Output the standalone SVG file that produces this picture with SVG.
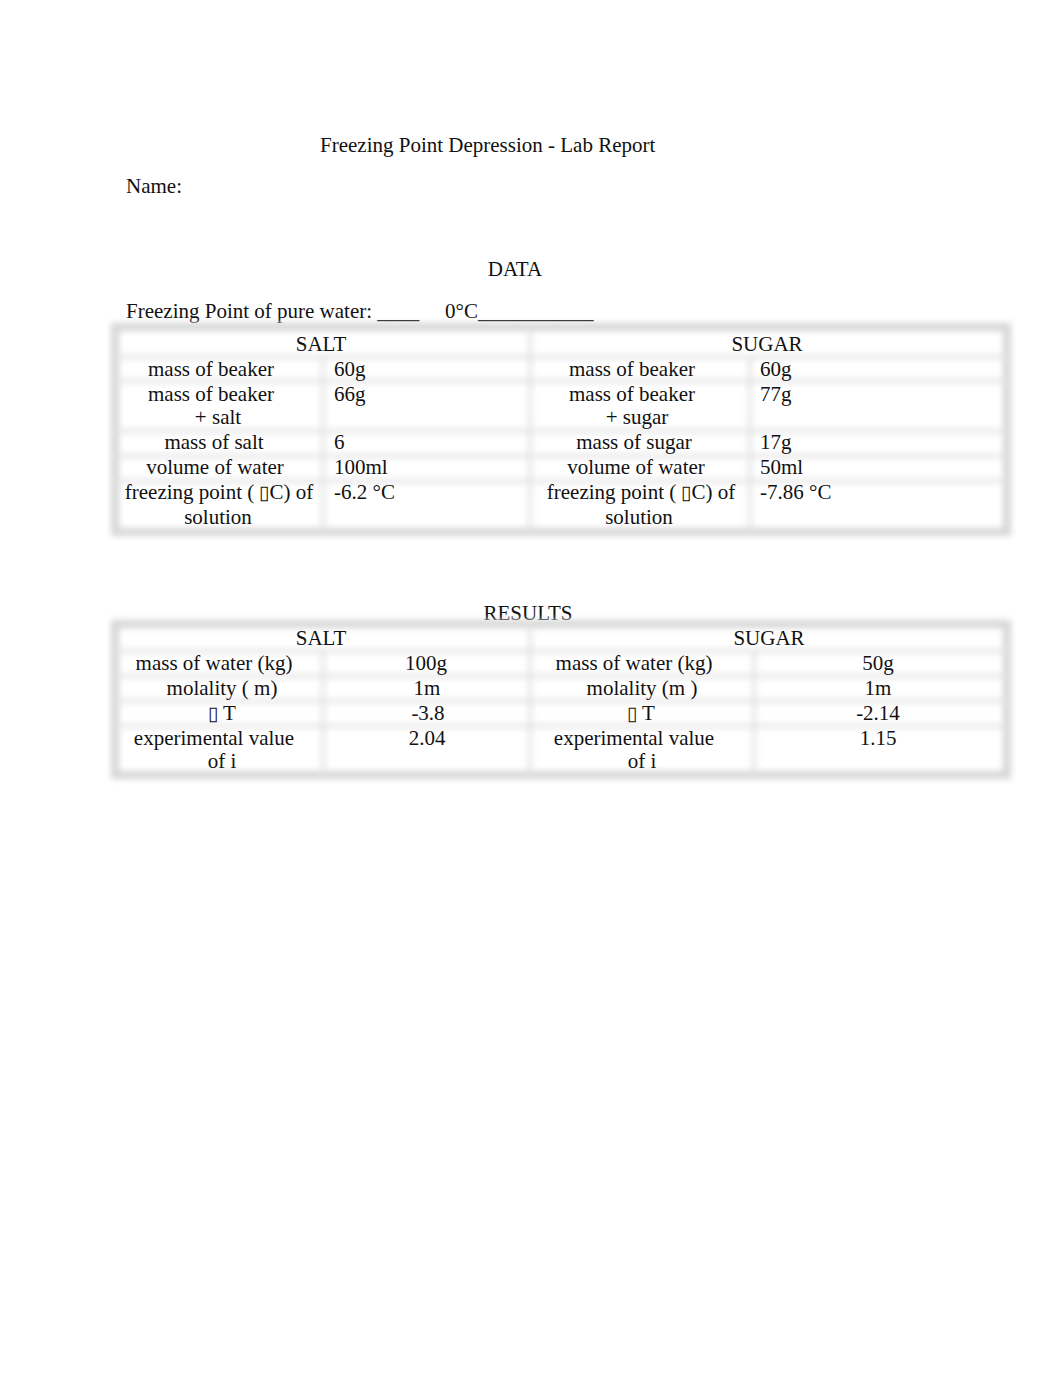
<svg xmlns="http://www.w3.org/2000/svg" width="1062" height="1377" viewBox="0 0 1062 1377">
<defs>
<filter id="blur" x="-5%" y="-20%" width="110%" height="140%"><feGaussianBlur stdDeviation="3.2"/></filter>
<style>
text{font-family:"Liberation Serif","Times New Roman",serif;font-size:21px;fill:#111}
.c{text-anchor:middle}
.box{font-family:"DejaVu Sans",sans-serif;font-size:19px;font-weight:300}
.grid{fill:none;stroke:#e4e4e4;stroke-width:4}
.outer{fill:none;stroke:#d6d6d6;stroke-width:8}
</style>
</defs>
<rect width="1062" height="1377" fill="#fff"/>
<g id="header">
<text x="320" y="152">Freezing Point Depression - Lab Report</text>
<text x="126" y="193">Name:</text>
<text class="c" x="515" y="276">DATA</text>
<text x="126" y="318" xml:space="preserve">Freezing Point of pure water: ____</text>
<text x="445" y="318">0°C___________</text>
</g>
<g id="data-table-grid" filter="url(#blur)">
<rect class="outer" x="115" y="327" width="892" height="205"/>
<path class="grid" d="M115 357H1007M115 381H1007M115 431H1007M115 456H1007M115 481H1007M323 357V532M530 327V532M750 357V532"/>
</g>
<g id="data-salt">
<text class="c" x="321" y="351">SALT</text>
<text class="c" x="211" y="376">mass of beaker</text><text x="334" y="376">60g</text>
<text class="c" x="211" y="401">mass of beaker</text><text x="334" y="401">66g</text>
<text class="c" x="218" y="424">+ salt</text>
<text class="c" x="214" y="449">mass of salt</text><text x="334" y="449">6</text>
<text class="c" x="215" y="474">volume of water</text><text x="334" y="474">100ml</text>
<text class="c" x="219" y="499">freezing point ( <tspan class="box">▯</tspan>C) of</text><text x="334" y="499">-6.2 °C</text>
<text class="c" x="218" y="524">solution</text>
</g>
<g id="data-sugar">
<text class="c" x="767" y="351">SUGAR</text>
<text class="c" x="632" y="376">mass of beaker</text><text x="760" y="376">60g</text>
<text class="c" x="632" y="401">mass of beaker</text><text x="760" y="401">77g</text>
<text class="c" x="637" y="424">+ sugar</text>
<text class="c" x="634" y="449">mass of sugar</text><text x="760" y="449">17g</text>
<text class="c" x="636" y="474">volume of water</text><text x="760" y="474">50ml</text>
<text class="c" x="641" y="499">freezing point ( <tspan class="box">▯</tspan>C) of</text><text x="760" y="499">-7.86 °C</text>
<text class="c" x="639" y="524">solution</text>
</g>
<text class="c" x="528" y="620">RESULTS</text>
<g id="results-table-grid" filter="url(#blur)">
<rect class="outer" x="115" y="624" width="892" height="151"/>
<path class="grid" d="M115 651H1007M115 676H1007M115 701H1007M115 726H1007M323 651V775M530 624V775M754 651V775"/>
</g>
<g id="results-salt">
<text class="c" x="321" y="645">SALT</text>
<text class="c" x="214" y="670">mass of water (kg)</text><text class="c" x="426" y="670">100g</text>
<text class="c" x="222" y="695">molality ( m)</text><text class="c" x="427" y="695">1m</text>
<text class="c" x="222" y="720"><tspan class="box">▯</tspan> T</text><text class="c" x="428" y="720">-3.8</text>
<text class="c" x="214" y="745">experimental value</text><text class="c" x="427" y="745">2.04</text>
<text class="c" x="222" y="768">of i</text>
</g>
<g id="results-sugar">
<text class="c" x="769" y="645">SUGAR</text>
<text class="c" x="634" y="670">mass of water (kg)</text><text class="c" x="878" y="670">50g</text>
<text class="c" x="642" y="695">molality (m )</text><text class="c" x="878" y="695">1m</text>
<text class="c" x="641" y="720"><tspan class="box">▯</tspan> T</text><text class="c" x="878" y="720">-2.14</text>
<text class="c" x="634" y="745">experimental value</text><text class="c" x="878" y="745">1.15</text>
<text class="c" x="642" y="768">of i</text>
</g>
</svg>
